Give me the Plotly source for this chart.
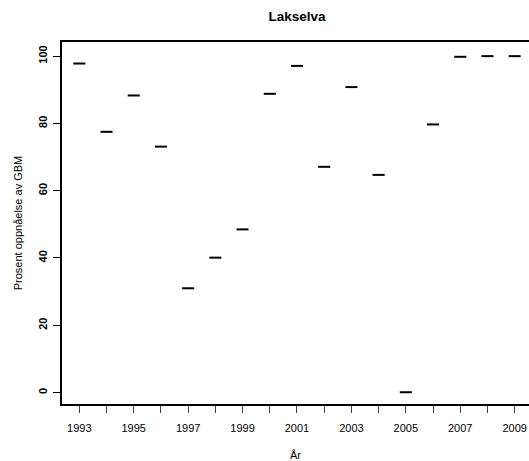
import plotly.graph_objects as go

years = [1993, 1994, 1995, 1996, 1997, 1998, 1999, 2000, 2001,
         2002, 2003, 2004, 2005, 2006, 2007, 2008, 2009]
values = [97.8, 77.5, 88.3, 73.1, 31.0, 40.1, 48.5, 88.8, 97.1,
          67.1, 90.8, 64.7, 0.1, 79.7, 99.8, 100.0, 100.0]
x_ticks = list(range(1993, 2010))
x_tick_labels = [str(y) if (y - 1993) % 2 == 0 else "" for y in x_ticks]
y_ticks = [0, 20, 40, 60, 80, 100]

FONT = "Liberation Sans, Arial, sans-serif"

fig = go.Figure()
fig.add_trace(go.Scatter(
    x=years, y=values, mode="markers",
    marker=dict(symbol="line-ew", size=8.6, color="black",
                line=dict(color="black", width=2)),
    showlegend=False, hoverinfo="x+y",
))

fig.update_layout(
    width=529, height=461,
    margin=dict(l=62, r=0, t=42, b=57, pad=0),
    paper_bgcolor="white", plot_bgcolor="white",
    font=dict(family=FONT, color="black"),
    title=dict(text="<b>Lakselva</b>", x=(62 + 532) / 2 / 529, xanchor="center",
               y=1 - 16 / 461, yanchor="middle",
               font=dict(size=13.5, family=FONT, color="black")),
)
fig.update_xaxes(
    range=[1992.364, 2009.527], tickvals=x_ticks, ticktext=x_tick_labels,
    ticks="outside", ticklen=7, tickwidth=1, tickcolor="#444",
    showline=True, linecolor="black", linewidth=2, mirror=True,
    showgrid=False, zeroline=False,
    tickfont=dict(size=11, family=FONT, color="black"),
    ticklabelstandoff=6,
    title=dict(text="År", font=dict(size=11, family=FONT, color="black"), standoff=18),
)
fig.update_yaxes(
    range=[-3.4, 104.2], tickvals=y_ticks,
    ticks="outside", ticklen=7, tickwidth=1, tickcolor="black",
    showline=True, linecolor="black", linewidth=2, mirror=False,
    showgrid=False, zeroline=False, tickangle=-90,
    tickfont=dict(size=11, family=FONT, color="black", weight="bold"),
    ticklabelstandoff=2,
    title=dict(text="Prosent oppnåelse av GBM", font=dict(size=11, family=FONT, color="black"), standoff=12),
)

fig.write_html("out.html", config={"displayModeBar": False},
               post_script="document.body.style.margin='0';document.body.style.padding='0';")
